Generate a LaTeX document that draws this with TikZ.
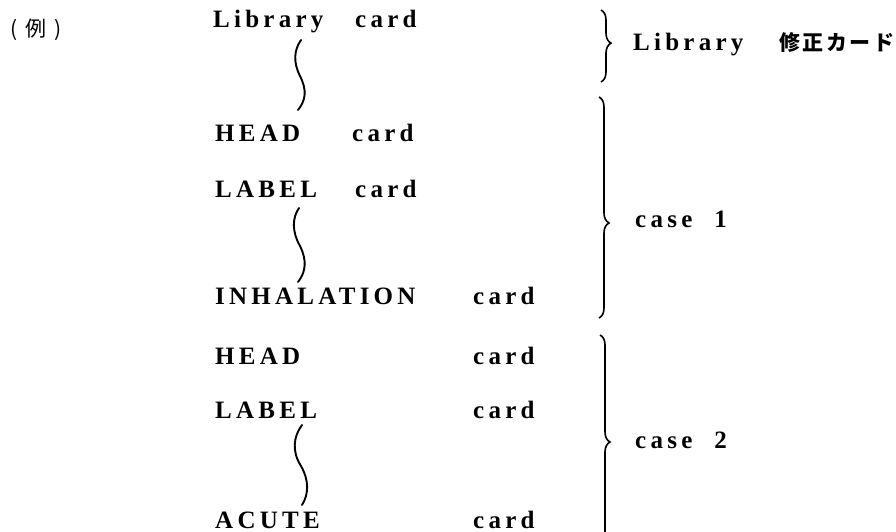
\documentclass[tikz,border=0pt]{standalone}
\usepackage{fontspec}
\setmainfont{Liberation Serif}
\newfontfamily\jpfont{Noto Sans CJK JP}
\usetikzlibrary{decorations.pathreplacing}
\begin{document}
\begin{tikzpicture}[x=1pt,y=-1pt,
  txt/.style={anchor=base west, inner sep=0pt,
    font=\fontsize{25}{25}\selectfont\bfseries\addfontfeatures{LetterSpace=17}},
  jp/.style={anchor=base west, inner sep=0pt,
    font=\fontsize{21}{21}\selectfont\jpfont\bfseries\addfontfeatures{LetterSpace=12}},
  wave/.style={line width=1.9pt, line cap=round},
  bracebox/.style={line width=1.6pt, decorate,
    decoration={brace, amplitude=10pt}}]
\useasboundingbox (0,0) rectangle (896,532);

\node[anchor=base west, inner sep=0pt, font=\fontsize{21}{21}\selectfont\jpfont] (rei) at (10,37) {(\hspace{8pt}例\hspace{8pt})};

% rows
\node[txt] (lib)  at (213,28)  {Library};
\node[txt] (libc) at (355,28)  {card};
\node[txt] (h1)   at (215,142) {HEAD};
\node[txt] (h1c)  at (352,142) {card};
\node[txt] (l1)   at (215,197) {LABEL};
\node[txt] (l1c)  at (355,197) {card};
\node[txt] (inh)  at (215,304) {INHALATION};
\node[txt] (inhc) at (473,304) {card};
\node[txt] (h2)   at (215,364) {HEAD};
\node[txt] (h2c)  at (473,364) {card};
\node[txt] (l2)   at (215,418) {LABEL};
\node[txt] (l2c)  at (473,418) {card};
\node[txt] (ac)   at (215,528) {ACUTE};
\node[txt] (acc)  at (473,528) {card};

% wavy continuation marks
\coordinate (w1t) at (301,40);  \coordinate (w1b) at (298,110);
\coordinate (w2t) at (299,208); \coordinate (w2b) at (298,282);
\coordinate (w3t) at (302,425); \coordinate (w3b) at (302,505);
\draw[wave] (w1t) .. controls (294,50) and (293,62) .. (300,76)
                  .. controls (307,90) and (306,100) .. (w1b);
\draw[wave] (w2t) .. controls (292,218) and (292,232) .. (300,246)
                  .. controls (307,260) and (306,272) .. (w2b);
\draw[wave] (w3t) .. controls (293,437) and (292,452) .. (301,466)
                  .. controls (309,480) and (309,494) .. (w3b);

% braces
\coordinate (b1t) at (601,10);  \coordinate (b1b) at (601,82);
\coordinate (b2t) at (599,97);  \coordinate (b2b) at (599,318);
\coordinate (b3t) at (600,335); \coordinate (b3b) at (600,549);
\draw[bracebox, decoration={aspect=0.46}] (b1t) -- (b1b);
\draw[bracebox, decoration={aspect=0.57}] (b2t) -- (b2b);
\draw[bracebox, decoration={aspect=0.5}]  (b3t) -- (b3b);

% brace labels
\node[txt] (blib) at (633,51) {Library};
\node[jp]  (bjp)  at (779,51) {修正カード};
\node[txt] (c1)   at (635,227) {case\hspace{22pt}1};
\node[txt] (c2)   at (635,448) {case\hspace{22pt}2};
\end{tikzpicture}
\end{document}
